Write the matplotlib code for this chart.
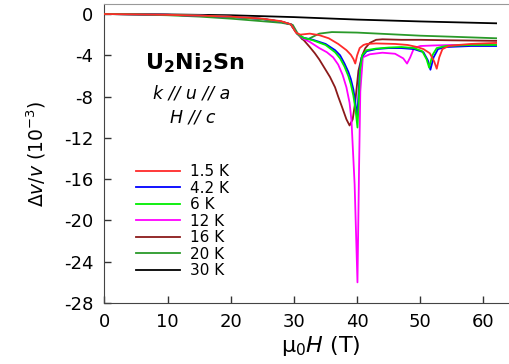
import matplotlib
matplotlib.use('Agg')
import matplotlib.pyplot as plt

plt.rcParams['font.family'] = ['DejaVu Sans']
plt.rcParams['mathtext.fontset'] = 'dejavusans'
plt.rcParams['axes.unicode_minus'] = False

# field (T) and dv/v (1e-3)
field_1p5 = [0, 5, 10, 15, 20, 25, 28, 29.5, 30.3, 31, 32.5, 34, 35.5, 37, 38.3, 39.0, 39.4, 39.7,
             40.0, 40.4, 41.0, 41.5, 43, 46, 48, 49.5, 50.5, 51.5, 52.2, 52.6, 53, 53.5, 54.5,
             56, 58, 60, 62]
dv_1p5 = [0, -0.03, -0.08, -0.15, -0.25, -0.45, -0.7, -1.0, -1.8, -2.0, -1.9, -2.05, -2.35, -2.9,
          -3.5, -3.95, -4.35, -4.8, -4.0, -3.3, -3.0, -2.9, -2.85, -2.9, -3.0, -3.2, -3.4, -3.8,
          -4.6, -5.3, -4.2, -3.4, -3.1, -3.0, -2.9, -2.85, -2.8]

field_4p2 = [0, 5, 10, 15, 20, 25, 28, 29.5, 30.5, 31.5, 33, 35, 36.5, 37.3, 38, 38.6, 39, 39.4,
             39.7, 40.0, 40.2, 40.4, 40.7, 41.5, 43, 45, 47, 49, 50.5, 51.2, 51.6, 52.1, 52.8,
             54, 56, 58, 60, 62]
dv_4p2 = [0, -0.03, -0.08, -0.15, -0.27, -0.48, -0.75, -1.0, -1.9, -2.3, -2.5, -2.9, -3.5, -4.0,
          -4.8, -5.6, -6.3, -7.3, -8.5, -10.0, -8.0, -5.5, -4.2, -3.6, -3.4, -3.3, -3.3, -3.4,
          -3.7, -4.5, -5.4, -4.2, -3.4, -3.2, -3.15, -3.1, -3.1, -3.1]

field_6 = [0, 5, 10, 15, 20, 25, 28, 29.5, 30.5, 31.5, 33, 35, 36.5, 37.3, 38, 38.6, 39, 39.4,
           39.75, 40.05, 40.25, 40.45, 40.8, 41.5, 43, 45, 47, 49, 50.3, 51.0, 51.4, 51.9, 52.6,
           54, 56, 58, 60, 62]
dv_6 = [0, -0.03, -0.08, -0.15, -0.27, -0.48, -0.75, -1.0, -1.9, -2.3, -2.55, -3.0, -3.7, -4.3,
        -5.1, -6.0, -6.8, -7.9, -9.3, -11.0, -8.5, -5.5, -4.0, -3.5, -3.35, -3.25, -3.2, -3.3,
        -3.6, -4.4, -5.2, -4.0, -3.3, -3.1, -3.05, -3.0, -3.0, -3.0]

field_12 = [0, 5, 10, 15, 20, 25, 28, 29.5, 30.5, 31.5, 32.5, 34, 35.2, 36.2, 37, 37.7, 38.3,
            38.8, 39.1, 39.6, 40.05, 40.3, 40.5, 40.9, 42, 44, 46, 47.3, 47.9, 48.4, 49, 50,
            52, 55, 58, 62]
dv_12 = [0, -0.03, -0.08, -0.15, -0.27, -0.48, -0.75, -1.0, -1.9, -2.4, -2.7, -3.3, -3.7, -4.2,
         -4.9, -5.9, -7.1, -8.6, -10.3, -16.5, -26.0, -15.0, -7.5, -4.2, -3.9, -3.75, -3.85,
         -4.3, -4.8, -4.2, -3.3, -3.1, -3.05, -3.0, -3.0, -2.95]

field_16 = [0, 5, 10, 15, 20, 25, 28, 29.5, 30.5, 31.5, 32.5, 33.3, 34, 34.8, 35.7, 36.5, 37,
            37.6, 38.3, 38.8, 39.3, 39.7, 40.2, 40.8, 41.3, 42, 43, 44, 47, 50, 55, 62]
dv_16 = [0, -0.03, -0.08, -0.15, -0.27, -0.48, -0.75, -1.0, -1.9, -2.5, -3.2, -3.8, -4.4, -5.2,
         -6.1, -7.1, -8.0, -9.0, -10.2, -10.8, -10.2, -8.5, -5.5, -4.0, -3.3, -2.8, -2.5,
         -2.45, -2.5, -2.5, -2.55, -2.6]

field_20 = [0, 5, 10, 15, 20, 23, 26, 28, 29.8, 30.6, 31.3, 32, 33, 34, 36, 40, 45, 50, 55, 62]
dv_20 = [0, -0.05, -0.12, -0.25, -0.45, -0.6, -0.75, -0.85, -1.05, -1.9, -2.45, -2.5, -2.2,
         -1.9, -1.75, -1.8, -1.95, -2.1, -2.2, -2.35]

field_30 = [0, 10, 20, 30, 40, 50, 62]
dv_30 = [0, -0.04, -0.12, -0.3, -0.54, -0.72, -0.9]

labels = ['1.5 K', '4.2 K', '6 K', '12 K', '16 K', '20 K', '30 K']
colors = ['#ff2a2a', '#0000ff', '#00ee00', '#ff00ff', '#8b1a1a', '#2a9a2a', '#000000']
layers = [7, 5, 6, 4, 3, 2, 1]

x_ticks = [0, 10, 20, 30, 40, 50, 60]
y_ticks = [0, -4, -8, -12, -16, -20, -24, -28]


def plot_curves():
    fig = plt.figure(figsize=(5.1, 3.64), dpi=100)
    ax = fig.add_axes([104.5 / 510, 1 - 303 / 364, 1 - 104.5 / 510, 299 / 364])
    series = [(field_1p5, dv_1p5), (field_4p2, dv_4p2), (field_6, dv_6), (field_12, dv_12),
              (field_16, dv_16), (field_20, dv_20), (field_30, dv_30)]
    for (x, y), lab, col, z in zip(series, labels, colors, layers):
        ax.plot(x, y, color=col, lw=1.3, label=lab, zorder=z)

    ax.set_xlim(0, 64.2)
    ax.set_ylim(-28, 0.97)
    ax.set_xticks(x_ticks)
    ax.set_xticklabels([str(t) for t in x_ticks])
    ax.set_yticks(y_ticks)
    ax.set_yticklabels([str(t) for t in y_ticks])
    ax.tick_params(direction='in', length=5, width=1, labelsize=13, colors='#333333')
    ax.tick_params(axis='x', pad=7)
    ax.tick_params(axis='y', pad=8)
    for t in ax.get_xticklabels() + ax.get_yticklabels():
        t.set_color('black')
    ax.spines['right'].set_visible(False)
    ax.spines['top'].set_color('#999999')
    ax.spines['left'].set_color('#444444')
    ax.spines['bottom'].set_color('#444444')

    ax.set_xlabel(r'$\mathrm{\mu}_0\mathit{H}$ (T)', fontsize=16)
    ax.xaxis.set_label_coords(0.534, -0.105)
    ax.set_ylabel(r'$\Delta\mathit{v}/\mathit{v}$ (10$^{-3}$)', fontsize=13.5)
    ax.yaxis.set_label_coords(-0.14, 0.5)

    fig.text(195 / 510, 1 - 63 / 364, r'$\mathbf{U_2Ni_2Sn}$', fontsize=16,
             ha='center', va='center')
    fig.text(192 / 510, 1 - 94 / 364, 'k // u // a', fontsize=12.5, style='italic',
             ha='center', va='center')
    fig.text(193 / 510, 1 - 117 / 364, 'H // c', fontsize=12.5, style='italic',
             ha='center', va='center')

    ax.legend(loc='upper left', bbox_to_anchor=(136 / 510, 1 - 164 / 364),
              bbox_transform=fig.transFigure, frameon=False, fontsize=11,
              handlelength=2.9, handletextpad=0.65, labelspacing=0.1,
              borderpad=0, borderaxespad=0)
    fig.savefig('out.png', dpi=100)


def main():
    plot_curves()


main()
